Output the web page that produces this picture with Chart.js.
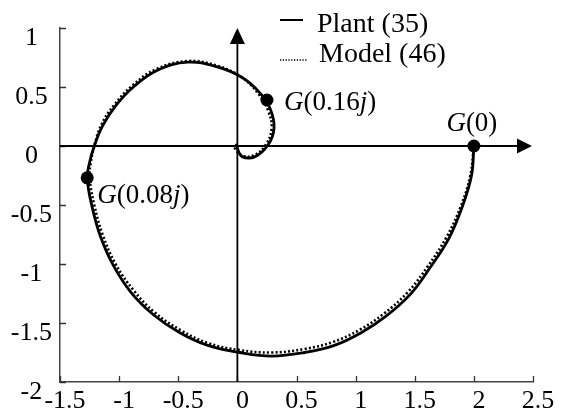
<!DOCTYPE html>
<html>
<head>
<meta charset="utf-8">
<title>Nyquist</title>
<script src="https://cdn.jsdelivr.net/npm/chart.js@4.4.1/dist/chart.umd.min.js"></script>
<style>
  body { margin: 0; background: #fff; }
  #wrap { width: 561px; height: 418px; }
</style>
</head>
<body>
<div id="wrap"><canvas id="nyquist" width="561" height="418"></canvas></div>
<script>
// frequency response, real / imaginary parts
const plantRe = [2.00, 1.98, 1.90, 1.79, 1.63, 1.46, 1.26, 1.05, 0.82, 0.57,
  0.29, 0.02, -0.25, -0.49, -0.71, -0.90, -1.05, -1.16, -1.23, -1.27,
  -1.25, -1.21, -1.14, -1.03, -0.88, -0.68, -0.42, -0.17, 0.04, 0.19,
  0.28, 0.31, 0.26, 0.15, 0.04, 0.00, 0.00];
const plantIm = [0.00, -0.25, -0.52, -0.78, -1.03, -1.26, -1.44, -1.58, -1.69, -1.75,
  -1.78, -1.75, -1.69, -1.58, -1.43, -1.24, -1.01, -0.76, -0.51, -0.27,
  -0.14, 0.00, 0.17, 0.34, 0.50, 0.64, 0.71, 0.67, 0.58, 0.45,
  0.31, 0.15, 0.01, -0.09, -0.09, -0.02, 0.00];
const modelRe = [2.00, 1.97, 1.89, 1.77, 1.61, 1.44, 1.24, 1.03, 0.81, 0.57,
  0.29, 0.02, -0.25, -0.48, -0.70, -0.88, -1.03, -1.14, -1.21, -1.25,
  -1.24, -1.21, -1.15, -1.04, -0.89, -0.69, -0.42, -0.17, 0.04, 0.18,
  0.26, 0.29, 0.24, 0.14, 0.04, -0.02, -0.01, 0.00];
const modelIm = [0.00, -0.25, -0.51, -0.77, -1.02, -1.24, -1.42, -1.56, -1.66, -1.72,
  -1.75, -1.73, -1.67, -1.56, -1.41, -1.22, -1.00, -0.75, -0.50, -0.27,
  -0.14, 0.00, 0.18, 0.35, 0.51, 0.65, 0.72, 0.68, 0.58, 0.44,
  0.30, 0.15, 0.01, -0.08, -0.08, -0.02, 0.01, 0.00];

// marked frequencies
const markW = ['0', '0.08', '0.16'];
const markRe = [2.00, -1.27, 0.25];
const markIm = [0.00, -0.27, 0.39];

const xTicks = ['-1.5', '-1', '-0.5', '0', '0.5', '1', '1.5', '2', '2.5'];
const yTicks = ['-2', '-1.5', '-1', '-0.5', '0', '0.5', '1'];
const legendNames = ['Plant (35)', 'Model (46)'];

const FONT = "'Liberation Serif', 'Times New Roman', serif";
const FS = 26;

function pts(re, im) {
  return re.map((v, i) => ({ x: v, y: im[i] }));
}

// axes through the origin with arrows, plus inward tick marks on the frame
const axesDecor = {
  id: 'axesDecor',
  beforeDatasetsDraw(chart) {
    const { ctx, chartArea: a, scales: { x, y } } = chart;
    ctx.save();
    ctx.strokeStyle = '#333';
    ctx.lineWidth = 1.3;
    ctx.beginPath();
    x.ticks.forEach((t, i) => {
      const px = Math.round(x.getPixelForTick(i)) + 0.5;
      ctx.moveTo(px, a.bottom);
      ctx.lineTo(px, a.bottom - 6);
    });
    y.ticks.forEach((t, i) => {
      const py = Math.round(y.getPixelForTick(i)) + 0.5;
      ctx.moveTo(a.left, py);
      ctx.lineTo(a.left + 6, py);
    });
    ctx.stroke();

    const x0 = x.getPixelForValue(0);
    const y0 = y.getPixelForValue(0);
    ctx.strokeStyle = '#000';
    ctx.fillStyle = '#000';
    ctx.lineWidth = 1.8;
    ctx.beginPath();
    ctx.moveTo(a.left, y0);
    ctx.lineTo(a.right - 10, y0);
    ctx.moveTo(x0, a.bottom);
    ctx.lineTo(x0, a.top + 10);
    ctx.stroke();
    ctx.beginPath();
    ctx.moveTo(a.right - 1, y0);
    ctx.lineTo(a.right - 16, y0 - 7.5);
    ctx.lineTo(a.right - 16, y0 + 7.5);
    ctx.closePath();
    ctx.moveTo(x0, a.top);
    ctx.lineTo(x0 - 7.5, a.top + 16);
    ctx.lineTo(x0 + 7.5, a.top + 16);
    ctx.closePath();
    ctx.fill();
    ctx.restore();
  }
};

function richText(ctx, parts, x, y, align, size) {
  let w = 0;
  parts.forEach(p => {
    ctx.font = (p.it ? 'italic ' : '') + size + 'px ' + FONT;
    w += ctx.measureText(p.t).width;
  });
  let cx = align === 'center' ? x - w / 2 : x;
  ctx.textAlign = 'left';
  parts.forEach(p => {
    ctx.font = (p.it ? 'italic ' : '') + size + 'px ' + FONT;
    ctx.fillText(p.t, cx, y);
    cx += ctx.measureText(p.t).width;
  });
}

// G(jw) labels beside the marked points, and the legend
const annotations = {
  id: 'annotations',
  afterDatasetsDraw(chart) {
    const { ctx, scales: { x, y } } = chart;
    const place = [
      { dx: -2, dy: -15, align: 'center' },
      { dx: 10, dy: 25, align: 'left' },
      { dx: 17, dy: 10, align: 'left' }
    ];
    ctx.save();
    ctx.fillStyle = '#000';
    ctx.textBaseline = 'alphabetic';
    markW.forEach((w, i) => {
      const px = x.getPixelForValue(markRe[i]);
      const py = y.getPixelForValue(markIm[i]);
      const parts = [{ t: 'G', it: true }, { t: '(' + w }];
      if (w !== '0') parts.push({ t: 'j', it: true });
      parts.push({ t: ')' });
      richText(ctx, parts, px + place[i].dx, py + place[i].dy, place[i].align, 27);
    });

    // legend
    const rows = [{ y: 20, base: 32, tx: 317 }, { y: 60, base: 62, tx: 319 }];
    rows.forEach((r, i) => {
      const ds = chart.data.datasets[i];
      ctx.beginPath();
      ctx.strokeStyle = '#000';
      ctx.lineWidth = i === 0 ? 2 : 1.3;
      ctx.setLineDash(i === 0 ? [] : [1.3, 1.5]);
      ctx.moveTo(280, r.y);
      ctx.lineTo(i === 0 ? 303 : 308, r.y);
      ctx.stroke();
      ctx.setLineDash([]);
      ctx.font = '28px ' + FONT;
      ctx.textAlign = 'left';
      ctx.fillText(ds.label, r.tx, r.base);
    });
    ctx.restore();
  }
};

new Chart(document.getElementById('nyquist'), {
  type: 'scatter',
  data: {
    datasets: [
      {
        label: legendNames[0],
        data: pts(plantRe, plantIm),
        showLine: true,
        borderColor: '#000',
        borderWidth: 2.8,
        pointRadius: 0,
        tension: 0.4,
        order: 1
      },
      {
        label: legendNames[1],
        data: pts(modelRe, modelIm),
        showLine: true,
        borderColor: '#000',
        borderWidth: 2.6,
        borderDash: [2, 2.2],
        pointRadius: 0,
        tension: 0.4,
        order: 2
      },
      {
        label: 'markers',
        data: pts(markRe, markIm),
        showLine: false,
        pointRadius: 6.5,
        pointBackgroundColor: '#000',
        pointBorderWidth: 0,
        order: 0
      }
    ]
  },
  options: {
    responsive: false,
    animation: false,
    layout: { padding: { top: 28, right: 28, left: 0, bottom: 0 } },
    plugins: {
      legend: { display: false },
      tooltip: { enabled: false }
    },
    scales: {
      x: {
        type: 'linear',
        min: -1.5,
        max: 2.5,
        afterFit: s => { s.height = 36; },
        border: { display: true, color: '#444', width: 1.5 },
        grid: { display: false, drawTicks: false },
        ticks: {
          stepSize: 0.5,
          padding: 4,
          labelOffset: 5,
          maxRotation: 0,
          autoSkip: false,
          color: '#000',
          font: { family: FONT, size: FS },
          callback: (v, i) => xTicks[i]
        }
      },
      y: {
        type: 'linear',
        min: -2,
        max: 1,
        afterFit: s => { s.width = 60; },
        border: { display: true, color: '#444', width: 1.5 },
        grid: { display: false, drawTicks: false },
        ticks: {
          stepSize: 0.5,
          padding: 8,
          labelOffset: 10,
          crossAlign: 'center',
          autoSkip: false,
          color: '#000',
          font: { family: FONT, size: FS },
          callback: (v, i) => yTicks[i]
        }
      }
    }
  },
  plugins: [axesDecor, annotations]
});
</script>
</body>
</html>
